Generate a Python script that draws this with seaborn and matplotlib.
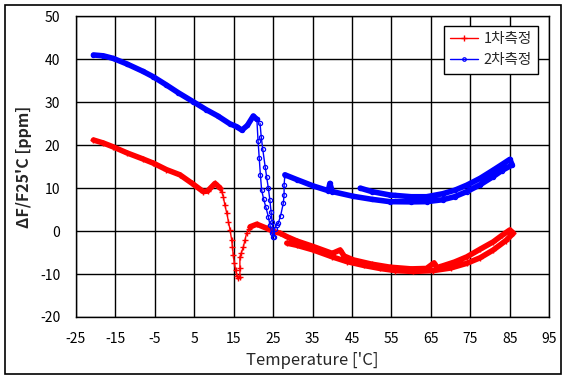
import pandas as pd
import matplotlib
matplotlib.use("Agg")
import matplotlib.pyplot as plt
import seaborn as sns
from matplotlib.lines import Line2D
from matplotlib.patches import Rectangle

# --- data (temperature in 'C, deviation in ppm) ---
series_names = ["1차측정", "2차측정"]

# 1st measurement: cold branch (dense), dip (sparse), warm loop (dense)
red_cold_t = [-20.5, -18, -15.5, -12, -8, -5.3, -2, 1.4, 4.5, 7.3, 8.4, 10.3, 11.6]
red_cold_v = [21.2, 20.5, 19.6, 18.2, 16.8, 15.8, 14.3, 13.1, 11.1, 9.2, 9.3, 11.1, 10.0]
red_dip_t = [11.6, 12.0, 12.4, 12.8, 13.3, 13.7, 14.1, 14.5, 14.7, 14.9, 15.2, 15.5,
             15.8, 16.2, 16.6, 16.6, 16.6, 17.0, 17.5, 17.9, 18.3, 18.8, 19.2]
red_dip_v = [10.0, 9.2, 8.0, 6.0, 4.1, 2.2, 0.3, -2.0, -3.6, -5.5, -7.5, -9.0,
             -10.5, -11.0, -10.6, -8.5, -6.0, -5.0, -3.6, -2.0, -0.5, 0.4, 1.0]
red_warm_t = [19.2, 20.9, 23.4, 25.1, 26.8, 28.5, 31, 35.2, 40, 42, 43, 45.3, 50, 54.6,
              60, 63.9, 65.8, 66.5, 68, 71, 74.1, 77.5, 80.8, 83, 85, 85.9, 84, 80.8,
              77.5, 74.1, 70, 65.6, 60.5, 56, 52.1, 48, 43.7, 40, 35.2, 31, 28.5]
red_warm_v = [1.0, 1.6, 0.65, -0.1, -0.5, -1.3, -2.3, -3.6, -5.2, -4.4, -5.8, -6.7, -7.7, -8.4,
              -8.8, -8.7, -7.4, -8.5, -8.1, -7.2, -6.0, -4.2, -2.5, -1.0, 0.26, -0.5, -2.2, -4.4,
              -6.2, -7.5, -8.6, -9.2, -9.4, -9.2, -8.7, -8.0, -7.1, -6.0, -4.4, -3.3, -2.8]

# 2nd measurement
blue_cold_t = [-20.5, -18, -15.5, -12, -8, -5.3, -2, 1, 4.8, 8, 11, 14, 15.8, 17.1, 18.5, 20.0, 20.9]
blue_cold_v = [41.0, 40.8, 40.2, 38.9, 37.2, 35.9, 34.0, 32.2, 30.1, 28.3, 26.8, 25.0, 24.3, 23.5, 24.6, 26.8, 26.0]
blue_drop_t = [20.9, 21.2, 21.5, 21.8, 22.1, 22.6, 23.2, 23.8, 24.2, 24.66, 25.0, 25.4,
               25.9, 26.3, 26.9, 27.6, 27.8, 27.8, 28.0]
blue_drop_v = [26.0, 21.0, 17.0, 13.0, 9.6, 7.5, 5.5, 3.35, 1.5, -0.5, -1.3, 0.5,
               1.5, 1.8, 3.5, 6.5, 8.5, 10.7, 13.1]
blue_drop2_t = [21.7, 22.0, 22.4, 23.0, 23.4, 23.8, 24.2, 24.5, 24.8, 25.2]
blue_drop2_v = [25.1, 22.0, 19.0, 15.0, 12.5, 10.0, 7.2, 4.5, 2.0, -1.3]
blue_warm_t = [28.0, 31, 35.2, 39.0, 39.4, 40.0, 45.3, 50, 54.6, 60, 63.9, 68, 71, 74.1,
               77.5, 80.8, 83, 85.6, 85.0, 83, 80.8, 77.5, 74.1, 71, 68, 63.9, 60, 56,
               54.6, 50, 47.1]
blue_warm_v = [13.1, 12.0, 10.5, 9.4, 11.1, 9.2, 8.1, 7.4, 6.85, 6.8, 6.85, 7.3, 8.0, 9.2,
               10.8, 12.7, 14.1, 15.4, 16.7, 15.5, 14.2, 12.3, 10.7, 9.5, 8.7, 8.0, 8.0, 8.3,
               8.4, 9.2, 10.0]

x_ticks = list(range(-25, 96, 10))
y_ticks = list(range(-20, 51, 10))


def seg(t, v, name, dense):
    return pd.DataFrame({"temp": t, "ppm": v, "seg": name, "dense": dense})


red_df = pd.concat([seg(red_cold_t, red_cold_v, "a", True),
                    seg(red_dip_t, red_dip_v, "b", False),
                    seg(red_warm_t, red_warm_v, "c", True)])
blue_df = pd.concat([seg(blue_cold_t, blue_cold_v, "a", True),
                     seg(blue_drop_t, blue_drop_v, "b", False),
                     seg(blue_drop2_t, blue_drop2_v, "c", False),
                     seg(blue_warm_t, blue_warm_v, "d", True)])

# --- styling ---
sns.set_style("white")
plt.rcParams["font.family"] = ["Noto Sans CJK KR", "DejaVu Sans"]
plt.rcParams["axes.unicode_minus"] = False

fig = plt.figure(figsize=(5.68, 3.8), dpi=100)
ax = fig.add_axes([0.1333, 0.1658, 0.8338, 0.7913])

styles = {
    "red": dict(color="#ff0000", marker="+", ms=5, mew=1, mfc="#ff0000"),
    "blue": dict(color="#0000ff", marker="o", ms=3, mew=0.9, mfc="none"),
}

for df, key in [(red_df, "red"), (blue_df, "blue")]:
    st = styles[key]
    for dense, part in df.groupby("dense"):
        sns.lineplot(data=part, x="temp", y="ppm", units="seg", estimator=None, sort=False,
                     ax=ax, color=st["color"], lw=4.0 if dense else 1.0,
                     marker=st["marker"], markersize=st["ms"], markeredgewidth=st["mew"],
                     markerfacecolor=st["mfc"], markeredgecolor=st["color"], legend=False)

ax.set_xlim(-25, 95)
ax.set_ylim(-20, 50)
ax.set_xticks(x_ticks)
ax.set_yticks(y_ticks)
ax.grid(True, color="black", lw=1)
ax.set_axisbelow(True)
for sp in ax.spines.values():
    sp.set_color("black")
    sp.set_linewidth(1)
ax.tick_params(length=0, labelsize=10, colors="black")
ax.tick_params(axis="x", pad=11)
ax.tick_params(axis="y", pad=11)

ax.set_xlabel("Temperature ['C]", fontsize=12, labelpad=4)
ax.set_ylabel("ΔF/F25'C [ppm]", fontsize=11.5, fontweight="bold", labelpad=6)

handles = [
    Line2D([], [], color="#ff0000", lw=1, marker="+", ms=5, mew=1),
    Line2D([], [], color="#0000ff", lw=1, marker="o", ms=2.5, mew=0.9, mfc="none"),
]
leg = ax.legend(handles, series_names, loc="upper right", bbox_to_anchor=(0.977, 0.968),
                borderaxespad=0, fontsize=10.5, handlelength=1.9, handletextpad=0.4,
                fancybox=False, framealpha=1, edgecolor="black", borderpad=0.45,
                labelspacing=0.45)
leg.get_frame().set_linewidth(1)

# chart border like the spreadsheet export
fig.patches.append(Rectangle((0.0093, 0.0166), 0.979, 0.9695, transform=fig.transFigure,
                             fill=False, edgecolor="black", lw=1.2))

fig.savefig("out.png", dpi=100)
